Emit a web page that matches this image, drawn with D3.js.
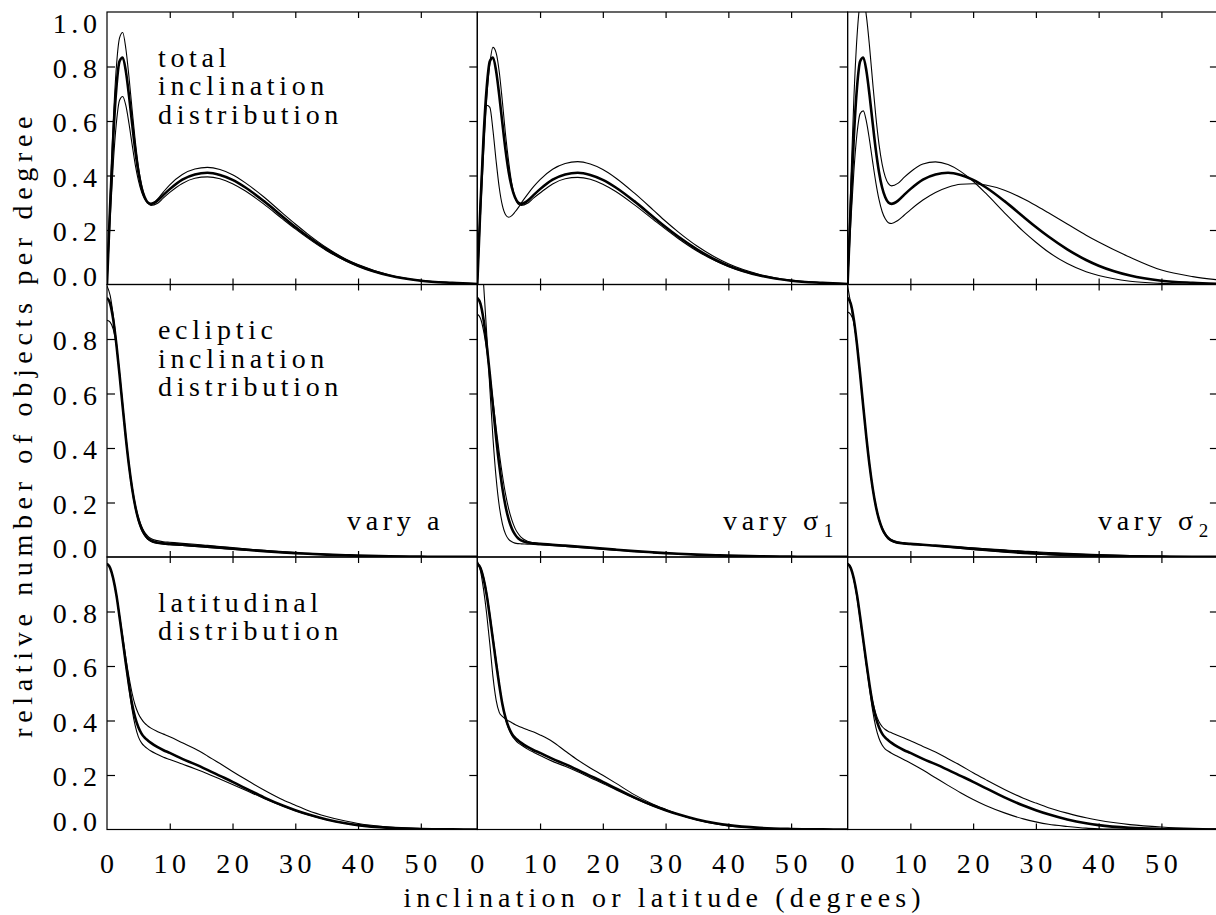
<!DOCTYPE html>
<html><head><meta charset="utf-8">
<script src="https://cdn.jsdelivr.net/npm/d3@7"></script>
<style>html,body{margin:0;padding:0;background:#fff;}svg{display:block;}</style>
</head><body>
<svg id="chart" width="1216" height="915"></svg>
<script>
// ---------------- data ----------------
const xGrid = [0,0.5,1,1.5,2,2.5,3,3.5,4,4.5,5,5.5,6,6.5,7,8,9,10,12,14,16,18,20,22,25,28,30,32,35,38,40,45,50,55,59];

const xTickValues = [0,10,20,30,40,50];
const yTickValues = [0,0.2,0.4,0.6,0.8,1.0];
const yTickLabels = ["0.0","0.2","0.4","0.6","0.8","1.0"];

const rowTitles = [["total","inclination","distribution"],["ecliptic","inclination","distribution"],["latitudinal","distribution"]];
const colTitles = [["a",""],["\u03c3","1"],["\u03c3","2"]];
const xAxisTitle = "inclination or latitude (degrees)";
const yAxisTitle = "relative number of objects per degree";

// row 1 : total inclination distribution
const totThick = [0,0.291,0.543,0.723,0.819,0.833,0.783,0.694,0.591,0.493,0.413,0.356,0.320,0.301,0.296,0.307,0.329,0.350,0.385,0.404,0.410,0.402,0.384,0.357,0.306,0.249,0.211,0.176,0.129,0.090,0.069,0.033,0.014,0.006,0.002];
const totVaryA1 = [0,0.320,0.600,0.800,0.905,0.925,0.866,0.762,0.642,0.528,0.434,0.366,0.322,0.299,0.290,0.297,0.318,0.338,0.371,0.390,0.395,0.388,0.370,0.344,0.295,0.240,0.204,0.170,0.124,0.087,0.067,0.032,0.014,0.005,0.002];
const totVaryA2 = [0,0.239,0.445,0.594,0.676,0.690,0.657,0.591,0.514,0.440,0.382,0.340,0.314,0.300,0.296,0.312,0.340,0.366,0.404,0.424,0.430,0.422,0.403,0.374,0.321,0.261,0.222,0.185,0.135,0.094,0.073,0.035,0.015,0.006,0.002];
const totVaryS1a = [0,0.25,0.48,0.68,0.81,0.87,0.85,0.78,0.67,0.55,0.45,0.37,0.32,0.295,0.29,0.298,0.318,0.336,0.369,0.388,0.393,0.386,0.368,0.342,0.293,0.239,0.203,0.169,0.123,0.086,0.066,0.032,0.0136,0.0053,0.0022];
const totVaryS1b = [0,0.313,0.547,0.658,0.650,0.565,0.453,0.355,0.289,0.256,0.247,0.253,0.266,0.281,0.299,0.331,0.360,0.385,0.423,0.444,0.451,0.442,0.422,0.392,0.336,0.274,0.232,0.193,0.141,0.099,0.076,0.037,0.016,0.006,0.0025];
const totVaryS2a = [0,0.367,0.683,0.910,1.031,1.048,0.984,0.872,0.741,0.617,0.515,0.442,0.395,0.370,0.362,0.371,0.393,0.413,0.442,0.450,0.440,0.415,0.379,0.335,0.263,0.195,0.155,0.119,0.077,0.047,0.033,0.012,0.004,0.001,0.0003];
const totVaryS2b = [0,0.224,0.416,0.554,0.627,0.637,0.598,0.529,0.449,0.374,0.312,0.268,0.241,0.227,0.224,0.235,0.254,0.274,0.310,0.338,0.357,0.368,0.370,0.365,0.346,0.315,0.290,0.263,0.222,0.181,0.156,0.100,0.053,0.029,0.017];

// row 2 : ecliptic inclination distribution
const eclThick = [0.951,0.930,0.870,0.779,0.669,0.551,0.437,0.336,0.252,0.186,0.138,0.105,0.083,0.069,0.061,0.053,0.050,0.048,0.045,0.0416,0.038,0.0343,0.0306,0.0269,0.0217,0.0171,0.0143,0.0119,0.0088,0.0063,0.005,0.0026,0.0013,0.0006,0.0003];
const eclVaryA1 = [0.995,0.96,0.885,0.785,0.668,0.548,0.432,0.330,0.245,0.180,0.132,0.100,0.078,0.065,0.057,0.050,0.047,0.045,0.042,0.0387,0.0353,0.0319,0.0285,0.025,0.0202,0.0159,0.0133,0.0111,0.0082,0.0059,0.0047,0.0024,0.0012,0.0006,0.0003];
const eclVaryA2 = [0.869,0.862,0.835,0.775,0.675,0.56,0.445,0.343,0.259,0.193,0.146,0.113,0.091,0.077,0.068,0.060,0.056,0.054,0.050,0.0466,0.0426,0.0384,0.0343,0.0301,0.0243,0.0192,0.016,0.0133,0.0099,0.0071,0.0056,0.0029,0.0015,0.0007,0.0003];
const eclVaryS1a = [1.182,1.134,1.002,0.818,0.618,0.435,0.290,0.187,0.122,0.084,0.065,0.056,0.051,0.049,0.0483,0.0473,0.046,0.0448,0.0418,0.0386,0.0353,0.0319,0.0284,0.025,0.0202,0.0159,0.0133,0.0111,0.0082,0.0059,0.0046,0.0024,0.0012,0.0006,0.0003];
const eclVaryS1b = [0.892,0.876,0.830,0.759,0.671,0.573,0.474,0.381,0.300,0.231,0.177,0.136,0.106,0.086,0.072,0.058,0.052,0.049,0.046,0.0424,0.0388,0.035,0.0312,0.0274,0.0221,0.0174,0.0146,0.0121,0.009,0.0064,0.0051,0.0027,0.0013,0.0006,0.0003];
const eclVaryS2a = [0.995,0.93,0.86,0.783,0.673,0.555,0.441,0.340,0.255,0.190,0.141,0.108,0.086,0.072,0.063,0.055,0.051,0.049,0.045,0.0405,0.0359,0.0313,0.0269,0.0228,0.0172,0.0125,0.0099,0.0077,0.0052,0.0033,0.0024,0.001,0.0004,0.0001,0];
const eclVaryS2b = [0.899,0.89,0.86,0.775,0.665,0.547,0.434,0.333,0.248,0.183,0.135,0.102,0.080,0.066,0.058,0.050,0.048,0.0463,0.0441,0.0418,0.0393,0.0364,0.0333,0.0303,0.026,0.0217,0.0187,0.0166,0.0133,0.0105,0.0088,0.0055,0.0032,0.0018,0.0011];

// row 3 : latitudinal distribution
const latThick = [0.975,0.96,0.92,0.86,0.78,0.695,0.61,0.53,0.46,0.41,0.375,0.352,0.337,0.327,0.318,0.303,0.291,0.281,0.259,0.24,0.219,0.197,0.175,0.152,0.118,0.088,0.071,0.056,0.037,0.023,0.016,0.006,0.002,0.0005,0];
const latVaryA1 = [0.975,0.96,0.92,0.86,0.785,0.71,0.63,0.56,0.50,0.455,0.425,0.405,0.39,0.38,0.372,0.36,0.35,0.34,0.318,0.296,0.27,0.242,0.213,0.185,0.145,0.109,0.089,0.07,0.048,0.031,0.022,0.009,0.003,0.001,0];
const latVaryA2 = [0.975,0.96,0.92,0.86,0.78,0.69,0.605,0.52,0.44,0.38,0.34,0.318,0.305,0.296,0.288,0.276,0.265,0.257,0.24,0.223,0.205,0.185,0.165,0.145,0.114,0.086,0.069,0.054,0.036,0.022,0.015,0.006,0.002,0.0005,0];
const latVaryS1a = [0.985,0.95,0.88,0.79,0.68,0.56,0.475,0.43,0.415,0.405,0.398,0.392,0.385,0.38,0.375,0.366,0.358,0.347,0.322,0.288,0.255,0.226,0.199,0.171,0.128,0.093,0.074,0.056,0.035,0.02,0.013,0.005,0.002,0.0005,0];
const latVaryS1b = [0.975,0.962,0.925,0.868,0.79,0.705,0.62,0.535,0.46,0.405,0.37,0.345,0.33,0.318,0.31,0.295,0.283,0.272,0.25,0.232,0.212,0.19,0.169,0.147,0.115,0.086,0.07,0.055,0.036,0.022,0.015,0.006,0.002,0.0005,0];
const latVaryS2a = [0.975,0.96,0.915,0.85,0.77,0.69,0.605,0.53,0.47,0.425,0.395,0.378,0.367,0.36,0.355,0.345,0.336,0.326,0.305,0.284,0.26,0.235,0.208,0.183,0.147,0.115,0.097,0.08,0.06,0.043,0.034,0.018,0.009,0.004,0.002];
const latVaryS2b = [0.975,0.96,0.92,0.86,0.78,0.69,0.6,0.515,0.435,0.375,0.335,0.31,0.295,0.287,0.28,0.268,0.256,0.244,0.218,0.19,0.162,0.135,0.11,0.088,0.061,0.039,0.028,0.019,0.011,0.005,0.003,0.001,0,0,0];

const panels = [
  [{thick: totThick, thin: [totVaryA1, totVaryA2]}, {thick: totThick, thin: [totVaryS1a, totVaryS1b]}, {thick: totThick, thin: [totVaryS2a, totVaryS2b]}],
  [{thick: eclThick, thin: [eclVaryA1, eclVaryA2]}, {thick: eclThick, thin: [eclVaryS1a, eclVaryS1b]}, {thick: eclThick, thin: [eclVaryS2a, eclVaryS2b]}],
  [{thick: latThick, thin: [latVaryA1, latVaryA2]}, {thick: latThick, thin: [latVaryS1a, latVaryS1b]}, {thick: latThick, thin: [latVaryS2a, latVaryS2b]}]
];

// ---------------- font ----------------
const FONT = '"Liberation Serif", "Tinos", "Times New Roman", serif';
const FS = 28;
const cv = document.createElement("canvas").getContext("2d");
cv.font = `${FS}px ${FONT}`;
const natW = cv.measureText("distribution").width;
const LS = Math.max(0, Math.min(6, (185 - natW) / 12));
const LSX = LS + 0.5;   // x-axis title
const LSY = LS + 1.0;   // y-axis title

// ---------------- layout ----------------
const plotLeft = 107, panelW = 370.3, plotTop = 12, panelH = 272.5;
const svg = d3.select("#chart");
const defs = svg.append("defs");
const lineGen = (xs, ys) => d3.line().x((d,i) => xs(xGrid[i])).y(d => ys(d)).curve(d3.curveMonotoneX);
const txt = (sel, ls = LS) => sel.style("font-family", FONT).style("font-size", FS + "px")
  .style("letter-spacing", ls + "px").style("fill", "#000");

for (let r = 0; r < 3; r++) {
  for (let c = 0; c < 3; c++) {
    const x0 = plotLeft + c * panelW, y0 = plotTop + r * panelH;
    const xs = d3.scaleLinear().domain([0, 59]).range([x0, x0 + panelW]);
    const ys = d3.scaleLinear().domain([0, 1]).range([y0 + panelH, y0]);
    const id = `clip-${r}-${c}`;
    defs.append("clipPath").attr("id", id).append("rect")
      .attr("x", x0).attr("y", y0).attr("width", panelW).attr("height", panelH);
    const g = svg.append("g");
    const cg = g.append("g").attr("clip-path", `url(#${id})`);
    const p = panels[r][c];
    p.thin.forEach(arr => {
      cg.append("path").datum(arr).attr("d", lineGen(xs, ys)).attr("fill", "none")
        .attr("stroke", "#000").attr("stroke-width", 1.1).attr("stroke-linejoin", "round");
    });
    cg.append("path").datum(p.thick).attr("d", lineGen(xs, ys)).attr("fill", "none")
      .attr("stroke", "#000").attr("stroke-width", 2.6).attr("stroke-linejoin", "round");

    g.append("rect").attr("x", x0).attr("y", y0).attr("width", panelW).attr("height", panelH)
      .attr("fill", "none").attr("stroke", "#000").attr("stroke-width", 1.2);

    const tickStyle = sel => { sel.select(".domain").remove(); sel.selectAll("text").remove();
      sel.selectAll("line").attr("stroke", "#000").attr("stroke-width", 1.2); };
    g.append("g").attr("transform", `translate(0,${y0 + panelH})`)
      .call(d3.axisBottom(xs).tickValues(xTickValues.slice(1)).tickSize(-6).tickSizeOuter(0)).call(tickStyle);
    g.append("g").attr("transform", `translate(0,${y0})`)
      .call(d3.axisTop(xs).tickValues(xTickValues.slice(1)).tickSize(-6).tickSizeOuter(0)).call(tickStyle);
    g.append("g").attr("transform", `translate(${x0 + panelW},0)`)
      .call(d3.axisRight(ys).tickValues(yTickValues.slice(1, 5)).tickSize(-8).tickSizeOuter(0)).call(tickStyle);
    if (c === 0) {
      g.append("g").attr("transform", `translate(${x0},0)`)
        .call(d3.axisLeft(ys).tickValues(yTickValues.slice(1, 5)).tickSize(-8).tickSizeOuter(0)).call(tickStyle);
      yTickValues.forEach((v, i) => {
        if (v === 1.0 && r > 0) return;
        let off = 11;
        if (v === 0) off = 1;
        if (v === 1.0) off = 21;
        svg.append("text").attr("x", 97 + LS).attr("y", ys(v) + off)
          .attr("text-anchor", "end").call(txt).text(yTickLabels[i]);
      });
      rowTitles[r].forEach((t, k) => {
        svg.append("text").attr("x", 158).attr("y", y0 + 54.5 + k * 28.5).call(txt).text(t);
      });
    }
    if (r === 1) {
      const lx = [347, 723, 1098][c];
      const t = svg.append("text").attr("x", lx).attr("y", y0 + 245.5).call(txt);
      t.append("tspan").text("vary " + colTitles[c][0]);
      if (colTitles[c][1]) {
        t.append("tspan").style("font-size", "19px").attr("dy", 7).attr("dx", 1).text(colTitles[c][1]);
      }
    }
    if (r === 2) {
      xTickValues.forEach(v => {
        svg.append("text").attr("x", xs(v) + LS / 2).attr("y", 873)
          .attr("text-anchor", "middle").call(txt).text(String(v));
      });
    }
  }
}

svg.append("text").attr("x", 662 + LSX / 2).attr("y", 907).attr("text-anchor", "middle")
  .call(txt, LSX).text(xAxisTitle);
svg.append("text").attr("transform", `translate(32,${421.5 + LSY / 2}) rotate(-90)`).attr("text-anchor", "middle")
  .call(txt, LSY).text(yAxisTitle);
</script>
</body></html>
